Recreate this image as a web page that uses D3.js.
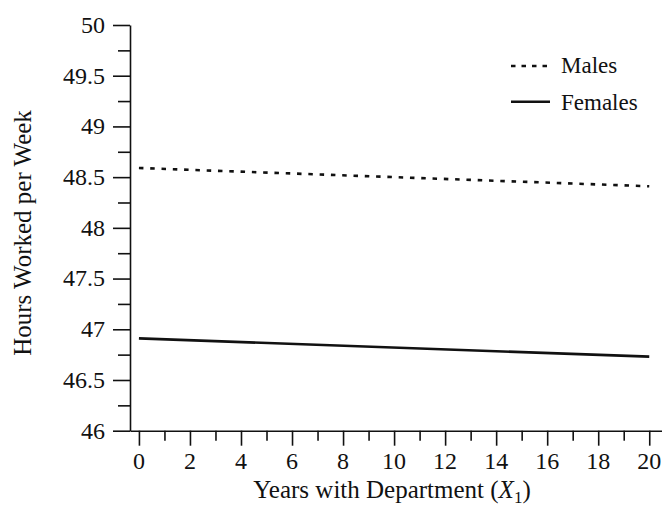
<!DOCTYPE html>
<html>
<head>
<meta charset="utf-8">
<script src="https://cdn.jsdelivr.net/npm/d3@7"></script>
<style>
  html, body { margin: 0; padding: 0; background: #fff; }
  svg { display: block; }
  text { font-family: "Liberation Serif", "DejaVu Serif", serif; fill: #111; }
</style>
</head>
<body>
<svg id="chart" width="662" height="510"></svg>
<script>
// Predicted hours worked per week at 0 and 20 years with the department
const years = [0, 20];
const males = [48.59, 48.41];
const females = [46.91, 46.73];
const seriesNames = ["Males", "Females"];

const yMajorTicks = [46, 46.5, 47, 47.5, 48, 48.5, 49, 49.5, 50];
const yMinorTicks = [46.25, 46.75, 47.25, 47.75, 48.25, 48.75, 49.25, 49.75];
const xMajorTicks = [0, 2, 4, 6, 8, 10, 12, 14, 16, 18, 20];
const xMinorTicks = [1, 3, 5, 7, 9, 11, 13, 15, 17, 19];

const svg = d3.select("#chart");
const ink = "#111";
const tickFont = 24;
const titleFont = 25;
const legendFont = 23;

const x = d3.scaleLinear().domain([-0.35, 20.5]).range([130, 662]);
const y = d3.scaleLinear().domain([46, 50]).range([430.7, 25]);

function styleAxis(g) {
  g.selectAll(".domain, .tick line").attr("stroke", ink).attr("stroke-width", 1.6);
  g.selectAll(".tick text").remove();
}

// Y axis: major and minor tick marks
const x0 = x.range()[0], y0 = y.range()[0];
svg.append("g").attr("transform", `translate(${x0},0)`)
  .call(d3.axisLeft(y).tickValues(yMajorTicks).tickSize(17).tickSizeOuter(0))
  .call(styleAxis);
svg.append("g").attr("transform", `translate(${x0},0)`)
  .call(d3.axisLeft(y).tickValues(yMinorTicks).tickSize(12).tickSizeOuter(0))
  .call(styleAxis)
  .select(".domain").remove();

// X axis: major and minor tick marks
svg.append("g").attr("transform", `translate(0,${y0})`)
  .call(d3.axisBottom(x).tickValues(xMajorTicks).tickSize(15).tickSizeOuter(0))
  .call(styleAxis);
svg.append("g").attr("transform", `translate(0,${y0})`)
  .call(d3.axisBottom(x).tickValues(xMinorTicks).tickSize(10).tickSizeOuter(0))
  .call(styleAxis)
  .select(".domain").remove();

// Tick labels
svg.append("g").selectAll("text").data(yMajorTicks).join("text")
  .attr("x", x0 - 25).attr("y", d => y(d)).attr("dy", "0.33em")
  .attr("text-anchor", "end")
  .style("font-size", tickFont + "px")
  .text(d => String(d));
svg.append("g").selectAll("text").data(xMajorTicks).join("text")
  .attr("x", d => x(d)).attr("y", y0 + 38)
  .attr("text-anchor", "middle")
  .style("font-size", tickFont + "px")
  .text(d => String(d));

// Data lines
const line = d3.line().x((d, i) => x(years[i])).y(d => y(d));
svg.append("path").datum(males)
  .attr("d", line).attr("fill", "none").attr("stroke", ink)
  .attr("stroke-width", 2.6).attr("stroke-dasharray", "4.5 6.8");
svg.append("path").datum(females)
  .attr("d", line).attr("fill", "none").attr("stroke", ink)
  .attr("stroke-width", 2.6);

// Legend
const legend = svg.append("g");
const legendRows = [
  { name: seriesNames[0], dash: "4.5 6", ly: 66, ty: 73 },
  { name: seriesNames[1], dash: null, ly: 101.7, ty: 110 }
];
legendRows.forEach(r => {
  legend.append("line")
    .attr("x1", 511).attr("x2", 550).attr("y1", r.ly).attr("y2", r.ly)
    .attr("stroke", ink).attr("stroke-width", 2.6)
    .attr("stroke-dasharray", r.dash);
  legend.append("text")
    .attr("x", 561).attr("y", r.ty)
    .style("font-size", legendFont + "px")
    .text(r.name);
});

// Axis titles
svg.append("text")
  .attr("transform", "translate(31,233) rotate(-90)")
  .attr("text-anchor", "middle")
  .style("font-size", titleFont + "px")
  .text("Hours Worked per Week");

const xTitle = svg.append("text")
  .attr("x", 392).attr("y", 498)
  .attr("text-anchor", "middle")
  .style("font-size", titleFont + "px");
xTitle.append("tspan").text("Years with Department (");
xTitle.append("tspan").style("font-style", "italic").text("X");
xTitle.append("tspan").attr("dy", 5).style("font-size", "17px").text("1");
xTitle.append("tspan").attr("dy", -5).text(")");
</script>
</body>
</html>
